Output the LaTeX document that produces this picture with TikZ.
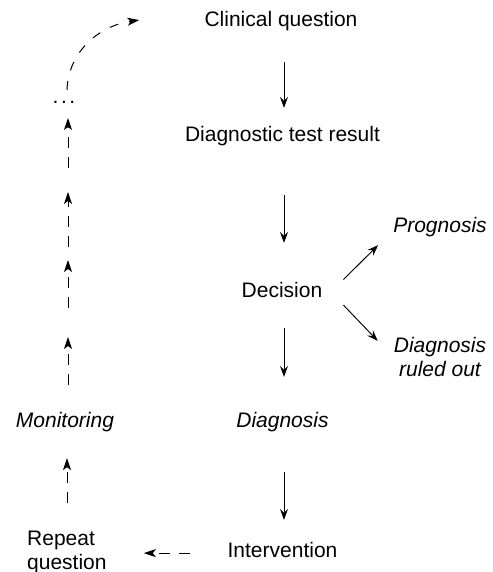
\documentclass[tikz,border=0pt]{standalone}
\usepackage{fontspec}
\setmainfont{Liberation Sans}
\usetikzlibrary{arrows.meta}
\begin{document}
\begin{tikzpicture}[x=1pt,y=-1pt,
  lbl/.style={font=\fontsize{21}{24}\selectfont, inner sep=0pt, anchor=base},
  ilbl/.style={lbl, font=\fontsize{21}{24}\selectfont\itshape},
  solidarr/.style={line width=0.95pt, -{Stealth[length=11pt,width=8pt,inset=4pt]}},
  dasharr/.style={line width=1pt, dash pattern=on 11pt off 9pt, -{Stealth[length=12pt,width=8pt,inset=3pt]}},
  curvearr/.style={line width=1pt, dash pattern=on 9pt off 11pt, -{Stealth[length=12pt,width=8pt,inset=3pt]}}
]
\useasboundingbox (0,0) rectangle (492,572);

% nodes
\node[lbl] (cq) at (281,27) {Clinical question};
\node[lbl] (dtr) at (282.5,142) {Diagnostic test result};
\node[lbl] (dec) at (282,297) {Decision};
\node[ilbl] (prog) at (440,232) {Prognosis};
\node[ilbl, align=center] (dro) at (440,376) {Diagnosis\\ruled out};
\node[ilbl] (diag) at (282.5,427) {Diagnosis};
\node[lbl] (int) at (282.5,557) {Intervention};
\node[lbl, align=left, anchor=base west] (rq) at (27,569) {Repeat\\question};
\node[ilbl] (mon) at (65,427) {Monitoring};
\node[lbl] (dots) at (64,104) {.\kern2.5pt.\kern2.5pt.};

% main column
\draw[solidarr, shorten <=30.6pt, shorten >=18.7pt] (cq.south -| 284,0) -- (dtr.north -| 284,0);
\draw[solidarr, shorten <=48.6pt, shorten >=38.7pt] (dtr.south -| 284,0) -- (dec.north -| 284,0);
\draw[solidarr, shorten <=31pt, shorten >=34.7pt] (dec.south -| 284,0) -- (diag.north -| 284,0);
\draw[solidarr, shorten <=40.6pt, shorten >=21.7pt] (diag.south -| 284,0) -- (int.north -| 284,0);

% branches
\draw[solidarr] ([shift={(21pt,10pt)}]dec.east) -- ([shift={(-15pt,-8.6pt)}]prog.south west);
\draw[solidarr] ([shift={(21pt,-15.6pt)}]dec.east) -- ([shift={(-16pt,-4.3pt)}]dro.north west);

% feedback loop
\draw[dasharr, shorten <=37pt, shorten >=37pt] ([yshift=-3.65pt]int.west) -- ([yshift=-3.65pt]int.west -| rq.east);
\draw[dasharr, shorten <=27pt, shorten >=26.6pt] (rq.north -| 67,0) -- (mon.south -| 67,0);

\coordinate (c1) at (68,385);
\coordinate (c2) at (68,337);
\coordinate (c3) at (68,308);
\coordinate (c4) at (68,260);
\coordinate (c5) at (68,247);
\coordinate (c6) at (68,192);
\coordinate (c7) at (68,168);
\coordinate (c8) at (68,118);
\coordinate (ctop) at (67,90);

\draw[dasharr] (c1) -- (c2);
\draw[dasharr] (c3) -- (c4);
\draw[dasharr] (c5) -- (c6);
\draw[dasharr] (c7) -- (c8);

\draw[curvearr] (ctop) to[out=88, in=188] ([xshift=-65pt, yshift=1.5pt]cq.west);
\end{tikzpicture}
\end{document}
